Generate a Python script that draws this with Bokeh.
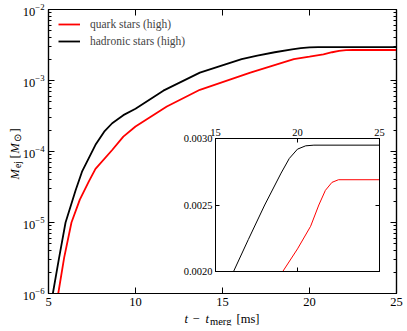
import numpy as np
from bokeh.plotting import figure
from bokeh.models import (LogAxis, LinearAxis, Legend, LegendItem, GridBox,
                          FixedTicker, PrintfTickFormatter, LogTicker,
                          ColumnDataSource, Range1d)
from bokeh.core.properties import value
from bokeh.embed import file_html
from bokeh.resources import INLINE

# ---- data ----
t_quark = [5.56, 5.9, 6.32, 6.8, 7.32, 7.7, 8.66, 9.3, 10.0, 11.8, 13.7, 16.6,
           19.1, 20.0, 20.8, 21.3, 21.7, 22.1, 22.5, 25.0]
m_quark = [1.0e-6, 3.2e-6, 1.0e-5, 2.1e-5, 3.8e-5, 5.7e-5, 1.05e-4, 1.62e-4,
           2.25e-4, 4.3e-4, 7.4e-4, 1.29e-3, 2.0e-3, 2.17e-3, 2.34e-3, 2.50e-3,
           2.61e-3, 2.67e-3, 2.69e-3, 2.69e-3]
t_hadronic = [5.25, 5.6, 5.98, 6.55, 6.94, 7.7, 8.2, 8.66, 9.3, 10.0, 11.6, 13.7,
              16.1, 17.0, 18.0, 19.0, 19.5, 20.0, 20.5, 21.0, 25.0]
m_hadronic = [1.0e-6, 3.1e-6, 1.0e-5, 2.8e-5, 5.3e-5, 1.24e-4, 1.9e-4, 2.5e-4,
              3.25e-4, 4.0e-4, 7.2e-4, 1.29e-3, 2.0e-3, 2.24e-3, 2.50e-3,
              2.74e-3, 2.85e-3, 2.92e-3, 2.945e-3, 2.95e-3, 2.95e-3]
series_labels = ["quark stars (high)", "hadronic stars (high)"]
x_ticks = [5, 10, 15, 20, 25]
inset_x_ticks = [15, 20, 25]
inset_y_ticks = [0.0020, 0.0025, 0.0030]

FONT = "Liberation Serif"
RED = "#ff0000"
W, H = 407, 331
# borders shared by every plot of the grid cell (the grid aligns them)
BL, BR, BT, BB = 48, 11, 20, 20


def base_fig(fw, fh, **kw):
    f = figure(frame_width=fw, frame_height=fh, output_backend="svg",
               toolbar_location=None, title=None, min_border_left=BL,
               min_border_right=BR, min_border_top=BT, min_border_bottom=BB, **kw)
    f.xgrid.visible = False
    f.ygrid.visible = False
    return f


def style(ax, show, fs, maj, mnr, lw=1.2):
    ax.major_tick_in = maj
    ax.major_tick_out = 0
    ax.minor_tick_in = mnr
    ax.minor_tick_out = 0
    ax.axis_line_color = "black"
    ax.axis_line_width = lw
    ax.major_tick_line_color = "black"
    ax.minor_tick_line_color = "black"
    ax.major_tick_line_width = 1
    ax.minor_tick_line_width = 1
    ax.major_label_text_font = FONT
    ax.axis_label_standoff = 0
    if show:
        ax.major_label_text_color = "black"
        ax.major_label_text_font_size = fs
        ax.major_label_standoff = 4
    else:
        ax.major_label_text_color = None
        ax.major_label_text_font_size = "1px"
        ax.major_label_standoff = 0


# ---- main plot: frame at page (48, 9) - (396, 293) ----
FW, FH = 348, 284
p = base_fig(FW, FH, x_range=(5, 25), y_range=(1e-6, 1e-2), y_axis_type="log")
p.outline_line_color = "black"
p.outline_line_width = 1.2
p.background_fill_color = "white"
p.border_fill_color = "white"
p.margin = (9 - BT, 0, 0, 0)

p.xaxis.ticker = FixedTicker(ticks=x_ticks, num_minor_ticks=5)
style(p.xaxis[0], True, "12.5px", 6, 3)
style(p.yaxis[0], True, "12.5px", 6, 3)
p.yaxis[0].ticker = LogTicker(num_minor_ticks=10)
top_ax = LinearAxis(ticker=FixedTicker(ticks=x_ticks, num_minor_ticks=5))
style(top_ax, False, "12px", 6, 3)
p.add_layout(top_ax, "above")
right_ax = LogAxis(ticker=LogTicker(num_minor_ticks=10))
style(right_ax, False, "12px", 6, 3)
p.add_layout(right_ax, "right")

r_q = p.line(t_quark, m_quark, line_color=RED, line_width=1.8)
r_h = p.line(t_hadronic, m_hadronic, line_color="black", line_width=1.8)

legend = Legend(items=[LegendItem(label=series_labels[0], renderers=[r_q]),
                       LegendItem(label=series_labels[1], renderers=[r_h])],
                location=(10, 246), border_line_color=None,
                background_fill_alpha=0, label_text_font=FONT,
                label_text_font_size="11.5px", glyph_width=22, glyph_height=12,
                label_height=12, spacing=5, padding=0, margin=0,
                label_standoff=10)
p.add_layout(legend)

# ---- inset: frame at page (215, 138), 164 x 133 ----
IW, IH = 164, 133
ins = base_fig(IW, IH, x_range=(15, 25), y_range=(0.002, 0.003),
               x_axis_location="above")
ins.outline_line_color = "black"
ins.background_fill_color = "white"
ins.border_fill_alpha = 0
ix0, iy0 = 215 - BL, 138 - BT
ins.margin = (iy0, W - ix0 - (BL + IW + BR), H - iy0 - (BT + IH + BB), ix0)

ins.xaxis[0].ticker = FixedTicker(ticks=inset_x_ticks, num_minor_ticks=5)
style(ins.xaxis[0], True, "10.5px", 4, 2, lw=1)
ins.xaxis[0].major_label_standoff = 3
ins.yaxis[0].ticker = FixedTicker(ticks=inset_y_ticks, num_minor_ticks=5)
ins.yaxis[0].formatter = PrintfTickFormatter(format="%.4f")
style(ins.yaxis[0], True, "10.5px", 4, 2, lw=1)
ins.yaxis[0].major_label_standoff = 3
ib = LinearAxis(ticker=FixedTicker(ticks=inset_x_ticks, num_minor_ticks=5))
style(ib, False, "10px", 4, 2, lw=1)
ins.add_layout(ib, "below")
ir = LinearAxis(ticker=FixedTicker(ticks=inset_y_ticks, num_minor_ticks=5))
style(ir, False, "10px", 4, 2, lw=1)
ins.add_layout(ir, "right")

ins.line(t_quark, m_quark, line_color=RED, line_width=1.0)
ins.line(t_hadronic, m_hadronic, line_color="black", line_width=1.0)

# ---- axis titles with sub-scripts, on a transparent overlay ----
# overlay frame covers page x 2..350, y 105..325; its ranges are page pixels
A = float(np.pi / 2)
pieces = [  # text, x, y(baseline), size, style, angle
    ("t", 184, 318, "12.5px", "italic", 0.0),
    ("−", 192, 318, "12.5px", "normal", 0.0),
    ("t", 205, 318, "12.5px", "italic", 0.0),
    ("merg", 209.5, 321, "10.5px", "normal", 0.0),
    ("[ms]", 236, 318, "12.5px", "normal", 0.0),
    ("M", 14, 179, "12.5px", "italic", A),
    ("ej", 17, 167.5, "9.5px", "normal", A),
    ("[", 14, 158, "12.5px", "normal", A),
    ("M", 14, 153, "12.5px", "italic", A),
    ("⊙", 17, 141.5, "9.5px", "normal", A),
    ("]", 14, 132, "12.5px", "normal", A),
]
src = ColumnDataSource(dict(text=[q[0] for q in pieces], x=[q[1] for q in pieces],
                            y=[q[2] for q in pieces], size=[q[3] for q in pieces],
                            fstyle=[q[4] for q in pieces], angle=[q[5] for q in pieces]))
OX0, OX1, OY0, OY1 = 2, 350, 105, 325
ov = base_fig(OX1 - OX0, OY1 - OY0, x_range=Range1d(OX0, OX1),
              y_range=Range1d(OY1, OY0), x_axis_type=None, y_axis_type=None)
ov.outline_line_color = None
ov.background_fill_alpha = 0
ov.border_fill_alpha = 0
omx, omy = OX0 - BL, OY0 - BT
ow, oh = BL + (OX1 - OX0) + BR, BT + (OY1 - OY0) + BB
ov.margin = (omy, W - omx - ow, H - omy - oh, omx)
ov.text(x="x", y="y", text="text", angle="angle", source=src,
        text_font=value(FONT), text_font_size="size", text_font_style="fstyle",
        text_align="left", text_baseline="alphabetic", text_color="black")

grid = GridBox(children=[(p, 0, 0), (ins, 0, 0), (ov, 0, 0)],
               styles={"overflow": "hidden"})

open("out.html", "w").write(file_html(grid, INLINE))
